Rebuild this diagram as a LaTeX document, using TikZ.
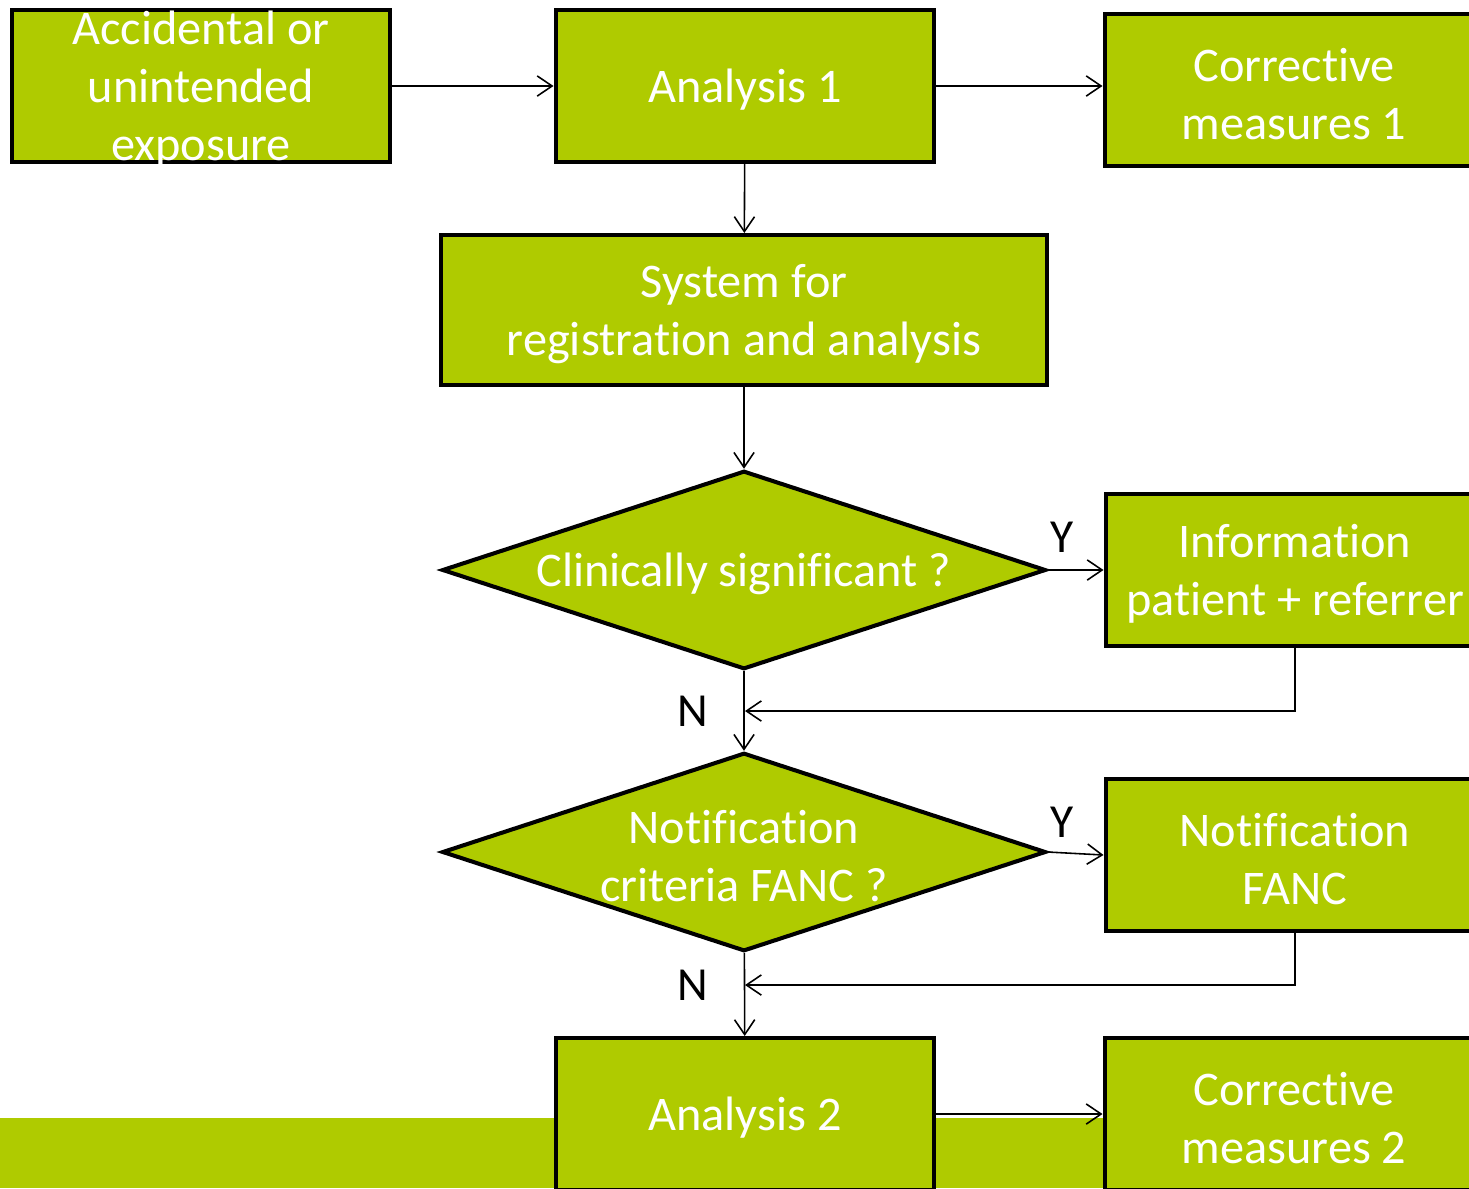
\documentclass[tikz,border=0pt]{standalone}
\usepackage{fontspec}
\setmainfont{Carlito}[Ligatures=NoCommon]
\usetikzlibrary{calc, shapes.geometric, arrows.meta}
\definecolor{fancgreen}{RGB}{175,203,0}

\begin{document}
\begin{tikzpicture}[x=0.02cm, y=-0.02cm,
        box/.style={rectangle, draw, line width=2.3pt, fill=fancgreen, minimum width=7.58cm, minimum height=3.04cm, inner sep=0pt},
        decision/.style={diamond, draw, line width=2.3pt, fill=fancgreen, minimum width=12.08cm, minimum height=3.97cm, inner sep=0pt},
        txt/.style={text=white, align=center, yshift=-0.08cm, font=\fontsize{27.5}{33}\selectfont},
        lbl/.style={font=\fontsize{27}{33}\selectfont},
        arr/.style={-{Straight Barb[length=8.5pt,width=11.5pt]}, line width=0.9pt}]

        \path[use as bounding box] (0,0) rectangle (1469,1188);
        \clip (0,0) rectangle (1469,1188);

        % bottom bar
        \fill[fancgreen] (0,1118) rectangle (1469,1188);

        % top row
        \node[box, label={[txt]center:{Accidental or\\unintended\\exposure}}] (exposure) at (201,86) {};
        \node[box, label={[txt]center:Analysis 1}] (analysis1) at (745,86) {};
        \node[box, label={[txt]center:{Corrective\\measures 1}}] (corr1) at (1294,90) {};

        % registration
        \node[box, minimum width=12.13cm, minimum height=3cm, label={[txt]center:{System for\\registration and analysis}}] (system) at (744,310) {};

        % decisions
        \node[decision, label={[txt]center:Clinically significant ?}] (clin) at (744,570) {};
        \node[box, label={[txt]center:{Information\\patient + referrer}}] (info) at (1295,570) {};
        \node[decision, label={[txt]center:{Notification\\criteria FANC ?}}] (crit) at (744,852) {};
        \node[box, label={[txt]center:{Notification\\FANC}}] (fanc) at (1295,855) {};

        % bottom row
        \node[box, label={[txt]center:Analysis 2}] (analysis2) at (745,1114) {};
        \node[box, label={[txt]center:{Corrective\\measures 2}}] (corr2) at (1294,1114) {};

        % answers
        \node[lbl] (y1) at (1062,537) {Y};
        \node[lbl] (n1) at (693,711) {N};
        \node[lbl] (y2) at (1062,822) {Y};
        \node[lbl] (n2) at (693,985) {N};

        % joins
        \coordinate (j1) at (745,711);
        \coordinate (j2) at (745,985);

        % arrows
        \draw[arr] (exposure) -- (analysis1);
        \draw[arr] (analysis1) -- (corr1.west |- analysis1);
        \draw[arr] (analysis1) -- (system);
        \draw[arr] (system) -- (clin);
        \draw[arr] (clin) -- (info);
        \draw[arr] (clin) -- (crit);
        \draw[arr] (info.south) |- (j1);
        \draw[arr] (crit.east) -- (fanc.west);
        \draw[arr] (crit) -- (analysis2);
        \draw[arr] (fanc.south) |- (j2);
        \draw[arr] (analysis2) -- (corr2);

\end{tikzpicture}
\end{document}
